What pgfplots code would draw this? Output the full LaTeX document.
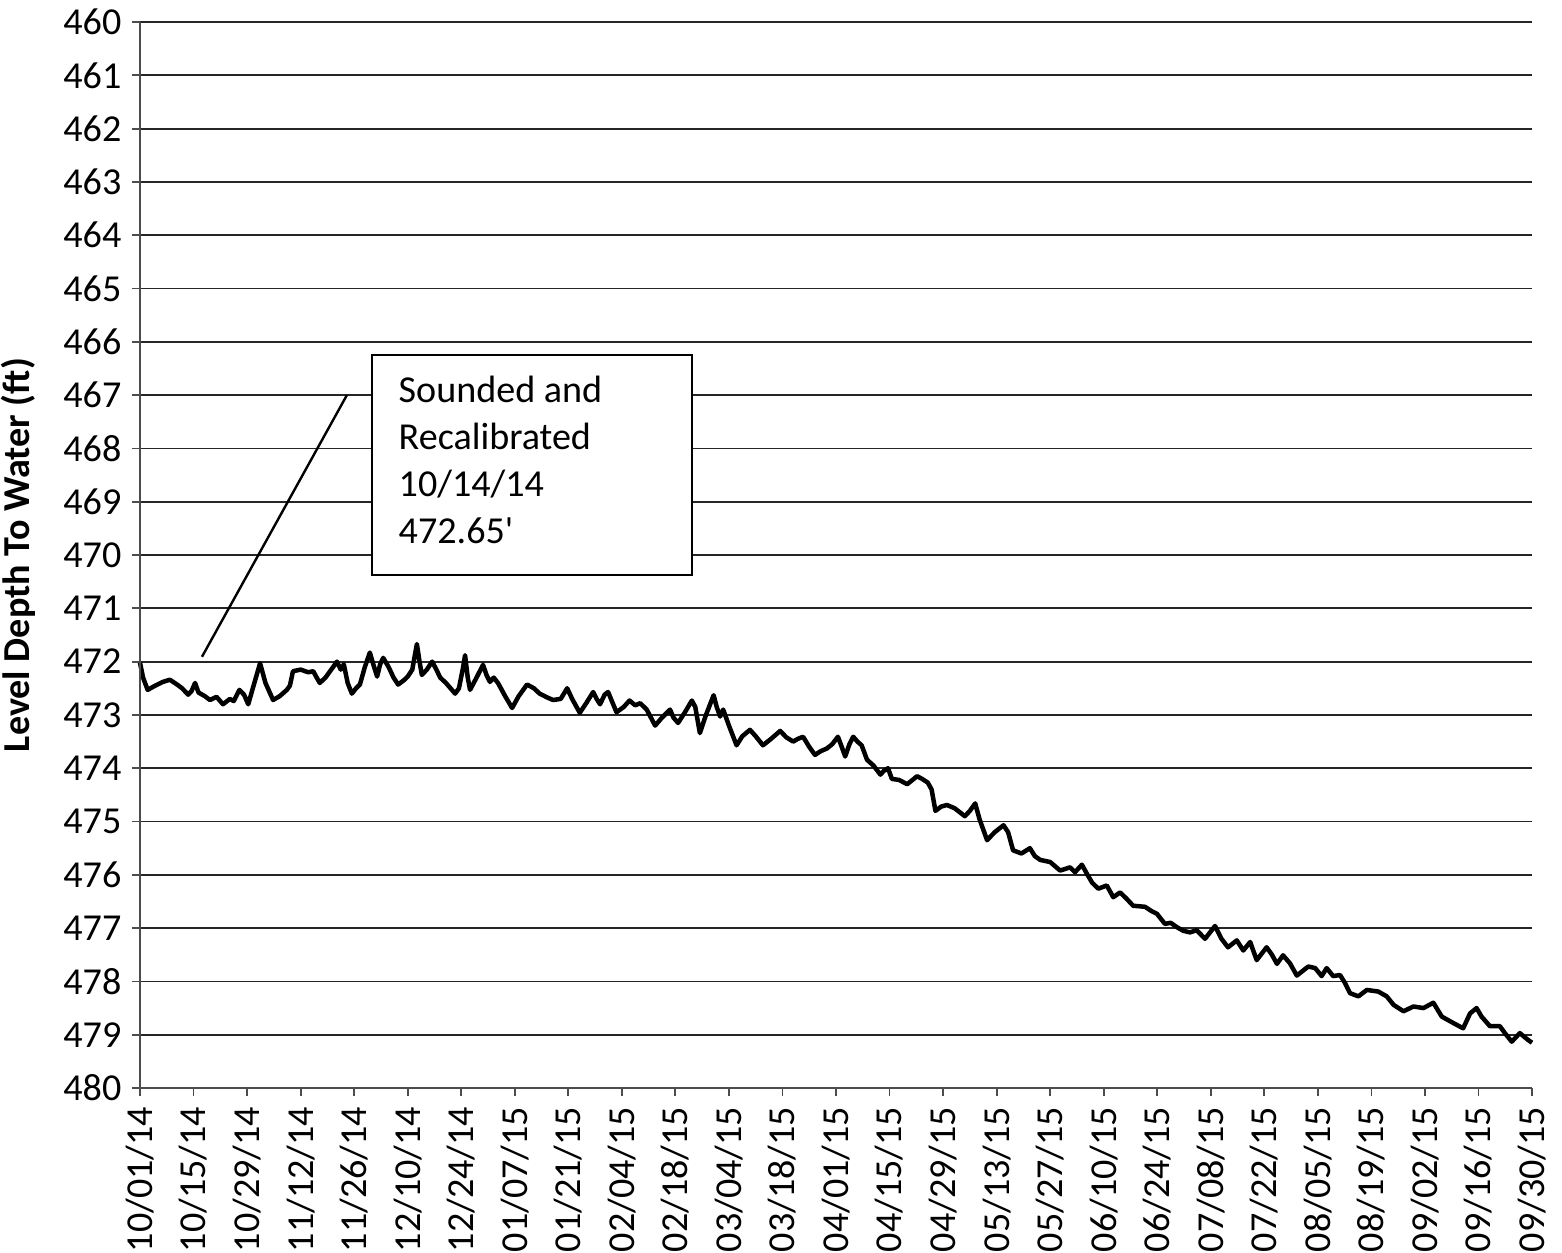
\documentclass[border=0pt]{standalone}
\usepackage{fontspec}
\setmainfont{Carlito}
\usepackage{pgfplots}
\pgfplotsset{compat=1.18}
\pgfplotstableread{
day val
0 472.02
0.8 472.3
2 472.53
4 472.45
6 472.38
7.8 472.34
9.5 472.42
11 472.5
12.6 472.62
13.5 472.55
14.4 472.4
15.3 472.58
17 472.65
18.3 472.72
20 472.66
21.7 472.8
23.5 472.7
24.5 472.74
26 472.53
27.2 472.62
28.3 472.8
29.5 472.5
31.4 472.03
32.8 472.4
34.8 472.72
36.5 472.65
38.4 472.53
39.2 472.45
40 472.18
42 472.15
44 472.2
45.3 472.18
46.2 472.3
47 472.4
48.5 472.3
50 472.15
51.5 472.0
52.5 472.15
53.3 472.05
54.3 472.4
55.4 472.6
56.5 472.5
57.5 472.43
58.8 472.1
60.1 471.83
61 472.05
62 472.28
62.8 472.05
63.6 471.93
65 472.1
66.3 472.3
67.5 472.43
69 472.35
70 472.28
71.2 472.15
72.4 471.67
73.1 472.0
73.7 472.25
75 472.15
76.4 472.0
77.5 472.15
78.5 472.3
80 472.4
82.4 472.6
83.4 472.5
84.5 472.1
85 471.88
85.7 472.3
86.3 472.53
88 472.3
89.7 472.06
90.6 472.25
91.5 472.38
92.5 472.3
93.6 472.4
95.5 472.65
97.3 472.87
99 472.65
101.2 472.43
103 472.5
104.5 472.6
106.4 472.67
108 472.72
110 472.7
111.7 472.5
113 472.7
115 472.96
116.5 472.8
118.5 472.57
119.4 472.7
120.3 472.8
121.5 472.62
122.4 472.57
124.6 472.95
126.5 472.85
128 472.73
129.5 472.82
130.8 472.78
132.5 472.9
134.7 473.2
136.5 473.05
138.6 472.9
139.5 473.05
140.7 473.15
142.5 472.95
144.3 472.73
145.2 472.85
146.4 473.34
148 473.0
150 472.63
150.8 472.85
151.7 473.03
152.5 472.9
154 473.2
156 473.57
157.5 473.4
159.5 473.28
161 473.4
162.9 473.57
165 473.45
167.4 473.3
169 473.42
170.8 473.5
172 473.45
173.4 473.41
175 473.6
176.5 473.75
178 473.68
179.6 473.63
181 473.55
182.5 473.41
183.5 473.6
184.4 473.78
185.5 473.55
186.5 473.41
187.6 473.5
188.7 473.57
190.1 473.84
191.8 473.95
193.6 474.12
194.5 474.05
195.6 474.0
196.6 474.2
198.5 474.22
200.6 474.3
202 474.22
203.2 474.15
204.5 474.2
206 474.27
207 474.4
208 474.8
209.5 474.72
211 474.69
213 474.75
215.7 474.9
217 474.8
218.4 474.66
219.5 474.95
221.5 475.35
223.5 475.2
225.8 475.07
227 475.2
228.3 475.54
230.5 475.6
232.7 475.5
234 475.65
235.4 475.72
238 475.76
240.6 475.92
243.2 475.86
244.5 475.95
246.3 475.81
247.6 475.98
249 476.15
250.6 476.26
252.8 476.2
254.5 476.42
256.3 476.33
258 476.45
259.7 476.58
262.8 476.6
264.5 476.68
265.9 476.73
268 476.92
269.5 476.9
271.1 476.98
272.8 477.05
274.6 477.08
276.3 477.04
278.5 477.2
281.1 476.96
282.8 477.2
284.5 477.36
286.8 477.23
288.5 477.42
290.3 477.26
292 477.6
294.6 477.36
296 477.5
297.3 477.67
298.9 477.51
300.7 477.66
302.5 477.89
305.5 477.72
307.3 477.75
309 477.9
310.3 477.75
312 477.9
313.8 477.88
315.1 478.03
316.4 478.22
318.6 478.28
320.8 478.16
323.8 478.19
326 478.28
327.8 478.44
330.4 478.56
333 478.47
335.6 478.5
338.2 478.4
340.4 478.66
343.4 478.78
346 478.88
347.8 478.6
349.5 478.5
350.8 478.66
353 478.84
355.6 478.84
356.9 478.97
358.7 479.13
360.8 478.97
363 479.1
364 479.15
}\leveldata
\begin{document}
\begin{tikzpicture}
\useasboundingbox (-46.67pt,-54.67pt) rectangle (474pt,362.67pt);
\begin{axis}[
 at={(0,0)}, anchor=south west,
 scale only axis, width=464pt, height=355.33pt,
 xmin=0, xmax=364, ymin=460, ymax=480, y dir=reverse,
 xtick={0,14,...,364},
 xticklabels={10/01/14,10/15/14,10/29/14,11/12/14,11/26/14,12/10/14,12/24/14,01/07/15,01/21/15,02/04/15,02/18/15,03/04/15,03/18/15,04/01/15,04/15/15,04/29/15,05/13/15,05/27/15,06/10/15,06/24/15,07/08/15,07/22/15,08/05/15,08/19/15,09/02/15,09/16/15,09/30/15},
 ytick={460,461,...,480},
 ymajorgrids,
 major grid style={black!85, line width=0.6pt},
 axis line style={draw=none},
 tick align=outside, major tick length=2.7pt,
 tick style={gray!60!black, line width=0.6pt},
 xtick pos=bottom, ytick pos=left,
 /pgf/number format/assume math mode=true,
 /pgf/number format/1000 sep={},
 tick label style={font=\fontsize{12.7}{15.5}\selectfont},
 xticklabel style={rotate=90, anchor=east},
 ylabel={\textbf{Level Depth To Water (ft)}},
 ylabel style={font=\fontsize{12.7}{15.5}\selectfont, at={(axis description cs:-0.0876,0.5)}, anchor=center},
 clip=false,
]
\addplot[black, line width=1.5pt, line join=round] table[x=day, y=val] {\leveldata};
\draw[gray!60!black, line width=0.6pt] (axis cs:0,460) -- (axis cs:0,480) -- (axis cs:364,480);
\draw[black, line width=0.8pt] (axis cs:16.2,471.91) -- (axis cs:54.1,467.0);
\draw[black, line width=0.8pt, fill=white] (axis cs:60.7,466.25) rectangle (axis cs:144.4,470.37);
\node[anchor=base west, align=left, inner sep=0pt, font=\fontsize{12.7}{15.6}\selectfont] at (axis cs:67.5,469.78) {Sounded and\\Recalibrated\\10/14/14\\472.65\textquotesingle};
\end{axis}
\end{tikzpicture}
\end{document}
